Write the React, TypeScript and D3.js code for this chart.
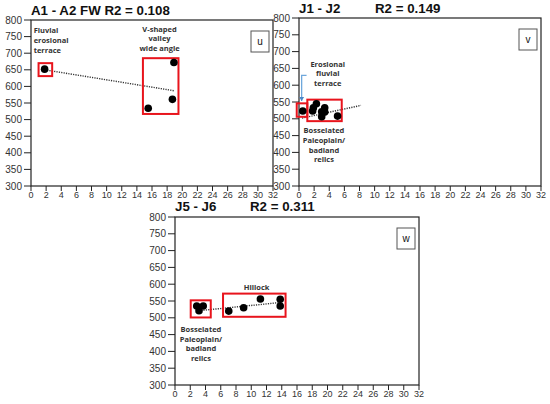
import * as d3 from 'd3';

const xTicks = d3.range(0, 33, 2);
const yTicks = d3.range(300, 801, 50);

// panel u
const uPoints = [[1.8, 652], [15.5, 534], [18.7, 561], [18.9, 672]];
const uTrend = [[1.8, 650], [18.9, 587]];
const uBoxes = [[1.0, 670, 2.8, 631], [14.8, 685, 19.5, 517]];
// panel v
const vPoints = [[0.5, 523], [1.8, 523], [1.9, 533], [2.3, 545], [3.0, 506], [3.0, 521], [3.4, 533], [3.4, 520], [5.1, 508]];
const vTrend = [[0.4, 502], [8.2, 540]];
const vBoxes = [[-0.3, 546, 1.1, 506], [1.1, 557, 5.65, 493]];
// panel w
const wPoints = [[2.85, 535], [3.15, 521], [3.7, 535], [7.05, 520], [9.0, 530], [11.2, 556], [13.8, 555], [13.8, 535]];
const wTrend = [[3.1, 521], [14, 546]];
const wBoxes = [[2.06, 552, 4.69, 501], [6.3, 572, 14.5, 503]];

const panels = [
  {
    key: 'u', left: 31, top: 20, width: 242, height: 166, titleY: -5,
    titles: [{ text: 'A1 - A2 FW R2 = 0.108', dx: 0 }],
    points: uPoints, trend: uTrend, boxes: uBoxes,
    notes: [
      { lines: ['Fluvial', 'erosional', 'terrace'], x: 0.35, y: 760, anchor: 'start' },
      { lines: ['V-shaped', 'valley', 'wide angle'], x: 17, y: 765, anchor: 'middle' },
    ],
    arrow: null as null | number[][],
  },
  {
    key: 'v', left: 299, top: 18, width: 242, height: 168, titleY: -5,
    titles: [{ text: 'J1 - J2', dx: 0 }, { text: 'R2 = 0.149', dx: 76 }],
    points: vPoints, trend: vTrend, boxes: vBoxes,
    notes: [
      { lines: ['Erosional', 'fluvial', 'terrace'], x: 3.8, y: 655, anchor: 'middle' },
      { lines: ['Bosselated', 'Paleoplain/', 'badland', 'relics'], x: 3.3, y: 457, anchor: 'middle' },
    ],
    arrow: [[1.0, 629], [0.35, 629], [0.35, 553]],
  },
  {
    key: 'w', left: 175, top: 217, width: 244, height: 168, titleY: -6,
    titles: [{ text: 'J5 - J6', dx: 0 }, { text: 'R2 = 0.311', dx: 75 }],
    points: wPoints, trend: wTrend, boxes: wBoxes,
    notes: [
      { lines: ['Hillock'], x: 10.7, y: 584, anchor: 'middle' },
      { lines: ['Bosselated', 'Paleoplain/', 'badland', 'relics'], x: 3.4, y: 458, anchor: 'middle' },
    ],
    arrow: null,
  },
];

function Panel({ p }: { p: any }) {
  const x = d3.scaleLinear().domain([0, 32]).range([0, p.width]);
  const y = d3.scaleLinear().domain([300, 800]).range([p.height, 0]);
  const line = d3.line<number[]>().x(d => x(d[0])).y(d => y(d[1]));
  const tickFont = '"Liberation Sans", Arial, sans-serif';
  const noteFont = '"Open Sans", sans-serif';
  return (
    <g transform={`translate(${p.left},${p.top})`}>
      {p.titles.map((t: any) => (
        <text key={t.text} x={t.dx} y={p.titleY} fontFamily={tickFont} fontWeight="bold" fontSize={13.3} fill="#111">{t.text}</text>
      ))}
      <rect x={0} y={0} width={p.width} height={p.height} fill="none" stroke="#222" strokeWidth={1.2} />
      {yTicks.map(v => (
        <g key={v} transform={`translate(0,${y(v)})`}>
          <line x1={-7} x2={0} stroke="#222" />
          <text x={-9} dy="0.35em" textAnchor="end" fontFamily={tickFont} fontSize={10} fill="#333">{v}</text>
        </g>
      ))}
      {xTicks.map(v => (
        <g key={v} transform={`translate(${x(v)},${p.height})`}>
          <line y1={0} y2={5} stroke="#222" />
          <text y={12} textAnchor="middle" fontFamily={tickFont} fontSize={9} fill="#333">{v}</text>
        </g>
      ))}
      <path d={line(p.trend) ?? ''} stroke="#333" strokeWidth={1.4} strokeDasharray="1.2,1.2" fill="none" />
      {p.boxes.map((b: number[], i: number) => (
        <rect key={i} x={x(b[0])} y={y(b[1])} width={x(b[2]) - x(b[0])} height={y(b[3]) - y(b[1])}
          fill="none" stroke="#e8141c" strokeWidth={2} />
      ))}
      {p.points.map((d: number[], i: number) => (
        <circle key={i} cx={x(d[0])} cy={y(d[1])} r={3.8} fill="#000" />
      ))}
      {p.arrow && (
        <g>
          <path d={line(p.arrow) ?? ''} stroke="#6fa8dc" strokeWidth={1.3} fill="none" />
          <path d={`M${x(p.arrow[2][0]) - 2.5},${y(p.arrow[2][1]) - 4}L${x(p.arrow[2][0])},${y(p.arrow[2][1])}L${x(p.arrow[2][0]) + 2.5},${y(p.arrow[2][1]) - 4}Z`} fill="#4a86c8" />
        </g>
      )}
      {p.notes.map((n: any, i: number) => (
        <text key={i} x={x(n.x)} y={y(n.y)} textAnchor={n.anchor} fontFamily={noteFont} fontWeight="bold" fontSize={7.5} fill="#333">
          {n.lines.map((l: string, j: number) => (
            <tspan key={j} x={x(n.x)} dy={j === 0 ? 0 : 9.7}>{l}</tspan>
          ))}
        </text>
      ))}
      <rect x={p.width - 22} y={11} width={18} height={21} fill="#fff" stroke="#555" strokeWidth={1} />
      <text x={p.width - 13} y={25} textAnchor="middle" fontFamily={tickFont} fontSize={10} fill="#111">{p.key}</text>
    </g>
  );
}

export default function App() {
  return (
    <svg width={550} height={404} style={{ position: 'absolute', left: 0, top: 0, background: '#fff' }}>
      {panels.map(p => <Panel key={p.key} p={p} />)}
    </svg>
  );
}
